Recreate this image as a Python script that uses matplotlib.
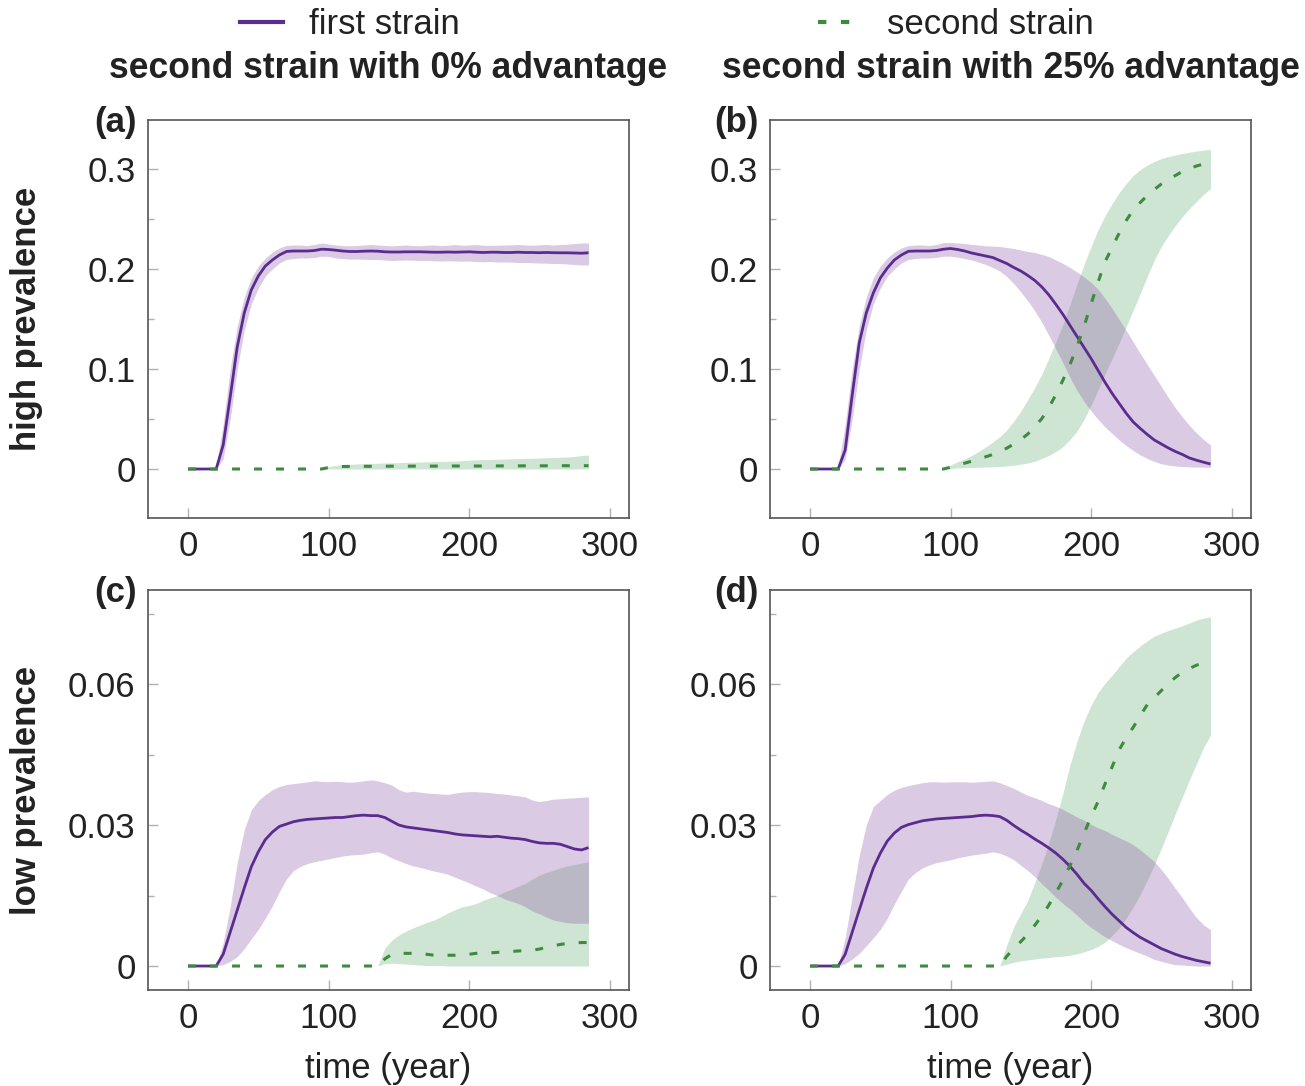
import numpy as np
import matplotlib
matplotlib.use("Agg")
import matplotlib.pyplot as plt
from matplotlib.lines import Line2D

plt.rcParams['font.family'] = ['Liberation Sans', 'DejaVu Sans']

# ---------------- data ----------------
years = np.arange(0, 290, 5)  # 0 ... 285 sampling grid

# (a) high prevalence, 0% advantage
a_first_mean = [0, 0, 0, 0, 0, 0.024, 0.072, 0.122, 0.156, 0.179, 0.193, 0.203, 0.209, 0.214, 0.2175, 0.218, 0.218, 0.218, 0.2185, 0.2198,
                0.2195, 0.2188, 0.218, 0.2175, 0.2175, 0.2178, 0.218, 0.2178, 0.2172, 0.217, 0.217, 0.2172, 0.2172, 0.2172, 0.217, 0.2168, 0.2168, 0.217, 0.2168, 0.217,
                0.2172, 0.2168, 0.2165, 0.2168, 0.2168, 0.2165, 0.2165, 0.2168, 0.2165, 0.2165, 0.2163, 0.2165, 0.2163, 0.2162, 0.2162, 0.216, 0.2158, 0.2162]
a_first_hi = [0, 0, 0, 0, 0.002, 0.045, 0.100, 0.143, 0.172, 0.191, 0.203, 0.211, 0.217, 0.221, 0.2235, 0.224, 0.224, 0.2235, 0.2245, 0.226,
              0.225, 0.224, 0.2235, 0.2232, 0.2235, 0.224, 0.2245, 0.224, 0.2235, 0.2232, 0.2235, 0.224, 0.2235, 0.2232, 0.2238, 0.224, 0.2235, 0.2238, 0.2245, 0.2238,
              0.224, 0.2245, 0.2238, 0.2235, 0.2238, 0.224, 0.2242, 0.2245, 0.224, 0.2238, 0.2242, 0.2245, 0.224, 0.2245, 0.2248, 0.2255, 0.226, 0.226]
a_first_lo = [0, 0, 0, 0, 0, 0.010, 0.050, 0.100, 0.139, 0.165, 0.181, 0.193, 0.200, 0.206, 0.2095, 0.2105, 0.211, 0.211, 0.2115, 0.2128,
              0.2125, 0.211, 0.2105, 0.2098, 0.210, 0.2098, 0.2095, 0.2095, 0.209, 0.2085, 0.2088, 0.209, 0.2088, 0.2085, 0.2085, 0.2082, 0.208, 0.2083, 0.208, 0.2078,
              0.208, 0.2075, 0.2072, 0.2075, 0.207, 0.207, 0.2068, 0.2065, 0.2065, 0.2062, 0.206, 0.2058, 0.2055, 0.2055, 0.205, 0.2045, 0.204, 0.204]
a_second_mean = [0, 0, 0, 0, 0, 0, 0, 0, 0, 0, 0, 0, 0, 0, 0, 0, 0, 0, 0, 0,
                 0.0015, 0.0022, 0.0025, 0.0026, 0.0026, 0.0027, 0.0027, 0.0027, 0.0028, 0.0028, 0.0028, 0.0028, 0.0029, 0.0029, 0.0029, 0.0029, 0.003, 0.003, 0.003, 0.003,
                 0.003, 0.003, 0.003, 0.0031, 0.0031, 0.0031, 0.0031, 0.0031, 0.0032, 0.0032, 0.0032, 0.0032, 0.0032, 0.0033, 0.0033, 0.0033, 0.0033, 0.0033]
a_second_hi = [0, 0, 0, 0, 0, 0, 0, 0, 0, 0, 0, 0, 0, 0, 0, 0, 0, 0, 0, 0,
               0.0025, 0.0035, 0.0042, 0.0046, 0.005, 0.0053, 0.0055, 0.0058, 0.006, 0.0062, 0.0064, 0.0066, 0.0068, 0.007, 0.0072, 0.0074, 0.0076, 0.0078, 0.008, 0.0083,
               0.0088, 0.0092, 0.0094, 0.0096, 0.0098, 0.010, 0.0102, 0.0104, 0.0106, 0.0108, 0.011, 0.0112, 0.0115, 0.0118, 0.012, 0.0125, 0.0135, 0.014]
a_second_lo = [0, 0, 0, 0, 0, 0, 0, 0, 0, 0, 0, 0, 0, 0, 0, 0, 0, 0, 0, 0,
               0, 0, 0, 0, 0, 0, 0, 0, 0, 0, 0, 0, 0, 0, 0, 0, 0, 0, 0, 0,
               0, 0, 0, 0, 0, 0, 0, 0, 0, 0, 0, 0, 0, 0, 0, 0, 0, 0]

# (b) high prevalence, 25% advantage
b_first_mean = [0, 0, 0, 0, 0, 0.019, 0.074, 0.126, 0.156, 0.176, 0.191, 0.201, 0.209, 0.214, 0.2177, 0.218, 0.218, 0.218, 0.2185, 0.2198,
                0.2205, 0.2195, 0.218, 0.216, 0.2145, 0.213, 0.2115, 0.2085, 0.2055, 0.2015, 0.198, 0.1935, 0.1885, 0.182, 0.174, 0.1645, 0.1545, 0.1435, 0.1325, 0.1215,
                0.1105, 0.0985, 0.0865, 0.0755, 0.0655, 0.0557, 0.047, 0.0405, 0.0345, 0.029, 0.025, 0.021, 0.0175, 0.0145, 0.011, 0.0088, 0.0068, 0.005]
b_first_hi = [0, 0, 0, 0, 0.002, 0.045, 0.100, 0.143, 0.172, 0.191, 0.203, 0.211, 0.217, 0.221, 0.2235, 0.224, 0.224, 0.2235, 0.2245, 0.2265,
              0.2265, 0.226, 0.2255, 0.2245, 0.224, 0.2232, 0.2228, 0.2225, 0.2215, 0.2205, 0.219, 0.2175, 0.2165, 0.2145, 0.2125, 0.209, 0.2055, 0.2015, 0.197, 0.192,
              0.1865, 0.1795, 0.1705, 0.1605, 0.1495, 0.1385, 0.127, 0.1155, 0.1045, 0.0935, 0.0825, 0.0715, 0.061, 0.052, 0.0435, 0.036, 0.0295, 0.024]
b_first_lo = [0, 0, 0, 0, 0, 0.010, 0.050, 0.100, 0.139, 0.165, 0.181, 0.193, 0.200, 0.206, 0.2095, 0.2105, 0.211, 0.211, 0.2115, 0.2128,
              0.2128, 0.2118, 0.2105, 0.209, 0.207, 0.2045, 0.2015, 0.198, 0.1925, 0.1855, 0.177, 0.168, 0.158, 0.1465, 0.1335, 0.12, 0.106, 0.0915, 0.0785, 0.0675,
              0.058, 0.0495, 0.042, 0.0355, 0.029, 0.0235, 0.0185, 0.014, 0.0105, 0.0075, 0.0052, 0.0038, 0.003, 0.0025, 0.0021, 0.0019, 0.0018, 0.0017]
b_second_mean = [0, 0, 0, 0, 0, 0, 0, 0, 0, 0, 0, 0, 0, 0, 0, 0, 0, 0, 0, 0,
                 0.0018, 0.0038, 0.0058, 0.0078, 0.0098, 0.0122, 0.0145, 0.0173, 0.0208, 0.025, 0.0295, 0.035, 0.0425, 0.0505, 0.0615, 0.0745, 0.089, 0.1045, 0.1225, 0.1425,
                 0.165, 0.187, 0.2075, 0.2215, 0.236, 0.2485, 0.259, 0.2665, 0.2735, 0.2795, 0.285, 0.2895, 0.2935, 0.2975, 0.3005, 0.303, 0.305, 0.306]
b_second_hi = [0, 0, 0, 0, 0, 0, 0, 0, 0, 0, 0, 0, 0, 0, 0, 0, 0, 0, 0, 0,
               0.004, 0.0072, 0.0102, 0.0135, 0.0175, 0.022, 0.027, 0.0323, 0.039, 0.048, 0.058, 0.0695, 0.0815, 0.095, 0.111, 0.1275, 0.145, 0.1645, 0.185, 0.2045,
               0.2225, 0.2395, 0.2535, 0.2655, 0.2765, 0.2855, 0.2935, 0.2995, 0.304, 0.3075, 0.3105, 0.3125, 0.314, 0.3155, 0.3168, 0.318, 0.3188, 0.3195]
b_second_lo = [0, 0, 0, 0, 0, 0, 0, 0, 0, 0, 0, 0, 0, 0, 0, 0, 0, 0, 0, 0,
               0.0005, 0.001, 0.0012, 0.0015, 0.0017, 0.002, 0.0022, 0.0025, 0.003, 0.0038, 0.0048, 0.006, 0.0078, 0.0105, 0.0135, 0.0175, 0.0225, 0.0295, 0.038, 0.0495,
               0.064, 0.079, 0.0955, 0.1105, 0.126, 0.1425, 0.159, 0.1755, 0.1925, 0.209, 0.2225, 0.2335, 0.2435, 0.2525, 0.2605, 0.2675, 0.2745, 0.2805]

# (c) low prevalence, 0% advantage
c_first_mean = [0, 0, 0, 0, 0, 0.0025, 0.0072, 0.0119, 0.0166, 0.0211, 0.0243, 0.0269, 0.0285, 0.0297, 0.0302, 0.0307, 0.031, 0.0312, 0.0313, 0.0314,
                0.0315, 0.0316, 0.0316, 0.0318, 0.032, 0.0321, 0.032, 0.032, 0.0316, 0.0308, 0.030, 0.0296, 0.0294, 0.0292, 0.029, 0.0288, 0.0286, 0.0284, 0.0281, 0.0279,
                0.0278, 0.0277, 0.0276, 0.0275, 0.0276, 0.0274, 0.0272, 0.0271, 0.0269, 0.0265, 0.0262, 0.0261, 0.0261, 0.0259, 0.0254, 0.0249, 0.0247, 0.0252]
c_first_hi = [0, 0, 0, 0, 0, 0.005, 0.0126, 0.022, 0.029, 0.0332, 0.0352, 0.0365, 0.0375, 0.0382, 0.0386, 0.0388, 0.039, 0.0392, 0.0394, 0.0393,
              0.0392, 0.0393, 0.0392, 0.0391, 0.0392, 0.0394, 0.0396, 0.0394, 0.039, 0.0385, 0.0375, 0.037, 0.0372, 0.037, 0.0368, 0.0367, 0.0366, 0.0365, 0.0368, 0.037,
              0.0371, 0.0371, 0.037, 0.0369, 0.0367, 0.0366, 0.0364, 0.0362, 0.036, 0.0353, 0.035, 0.0352, 0.0355, 0.0356, 0.0357, 0.0358, 0.0359, 0.036]
c_first_lo = [0, 0, 0, 0, 0, 0.0003, 0.001, 0.002, 0.0037, 0.0058, 0.0078, 0.0102, 0.0128, 0.0158, 0.0185, 0.0203, 0.0212, 0.0218, 0.0222, 0.0225,
              0.0228, 0.0231, 0.0234, 0.0236, 0.0237, 0.0238, 0.0241, 0.0243, 0.0238, 0.023, 0.0224, 0.0218, 0.0213, 0.021, 0.0206, 0.0202, 0.0199, 0.0195, 0.0189, 0.0183,
              0.0177, 0.017, 0.0164, 0.0156, 0.015, 0.0143, 0.0138, 0.0133, 0.0126, 0.0117, 0.0111, 0.0104, 0.0098, 0.0095, 0.0092, 0.0091, 0.0091, 0.0091]
c_second_mean = [0, 0, 0, 0, 0, 0, 0, 0, 0, 0, 0, 0, 0, 0, 0, 0, 0, 0, 0, 0,
                 0, 0, 0, 0, 0, 0, 0, 0, 0.0015, 0.0025, 0.0027, 0.0027, 0.0027, 0.0026, 0.0025, 0.0023, 0.0023, 0.0023, 0.0023, 0.0024,
                 0.0025, 0.0027, 0.0028, 0.0028, 0.0029, 0.003, 0.0031, 0.0032, 0.0033, 0.0034, 0.0036, 0.004, 0.0043, 0.0046, 0.0048, 0.0049, 0.005, 0.005]
c_second_hi = [0, 0, 0, 0, 0, 0, 0, 0, 0, 0, 0, 0, 0, 0, 0, 0, 0, 0, 0, 0,
               0, 0, 0, 0, 0, 0, 0, 0, 0.0038, 0.0055, 0.0066, 0.0074, 0.0081, 0.0087, 0.0093, 0.0098, 0.0105, 0.0113, 0.012, 0.0126,
               0.0129, 0.0133, 0.014, 0.0145, 0.015, 0.0158, 0.0163, 0.017, 0.0176, 0.0185, 0.0193, 0.0199, 0.0204, 0.0209, 0.0213, 0.0216, 0.0219, 0.0222]
c_second_lo = [0, 0, 0, 0, 0, 0, 0, 0, 0, 0, 0, 0, 0, 0, 0, 0, 0, 0, 0, 0,
               0, 0, 0, 0, 0, 0, 0, 0, 0.0005, 0.0006, 0.0005, 0.0004, 0.0003, 0.0002, 0.0001, 0.0001, 0.0001, 0, 0, 0,
               0, 0, 0, 0, 0, 0, 0, 0, 0, 0, 0, 0, 0, 0, 0, 0, 0, 0]

# (d) low prevalence, 25% advantage
d_first_mean = [0, 0, 0, 0, 0, 0.0025, 0.0072, 0.0119, 0.0165, 0.0208, 0.024, 0.0266, 0.0283, 0.0295, 0.0301, 0.0305, 0.0309, 0.0311, 0.0313, 0.0314,
                0.0315, 0.0316, 0.0317, 0.0318, 0.032, 0.0321, 0.032, 0.0318, 0.031, 0.0299, 0.0289, 0.028, 0.027, 0.0261, 0.0251, 0.024, 0.0227, 0.0212, 0.0195, 0.0176,
                0.0161, 0.0143, 0.0126, 0.011, 0.0096, 0.0082, 0.0071, 0.0061, 0.0053, 0.0045, 0.0037, 0.0031, 0.0025, 0.002, 0.0016, 0.0012, 0.0009, 0.0006]
d_first_hi = [0, 0, 0, 0, 0, 0.006, 0.0148, 0.0235, 0.030, 0.0339, 0.0352, 0.0365, 0.0374, 0.038, 0.0384, 0.0387, 0.039, 0.0392, 0.0392, 0.0391,
              0.0392, 0.0392, 0.0392, 0.0391, 0.0392, 0.0393, 0.0394, 0.039, 0.0384, 0.0378, 0.037, 0.0363, 0.0358, 0.0352, 0.0345, 0.034, 0.0333, 0.0325, 0.0317, 0.031,
              0.0301, 0.0294, 0.0288, 0.028, 0.0273, 0.0266, 0.0258, 0.0247, 0.0235, 0.0222, 0.0205, 0.0186, 0.0165, 0.0145, 0.0123, 0.0103, 0.0088, 0.0077]
d_first_lo = [0, 0, 0, 0, 0, 0.0005, 0.0015, 0.0027, 0.0043, 0.006, 0.0078, 0.0102, 0.0132, 0.0159, 0.0185, 0.0199, 0.0209, 0.0215, 0.022, 0.0223,
              0.0226, 0.023, 0.0233, 0.0236, 0.0238, 0.024, 0.0243, 0.024, 0.0234, 0.0226, 0.0214, 0.0203, 0.019, 0.0175, 0.0161, 0.0146, 0.0133, 0.0121, 0.0108, 0.0094,
              0.0082, 0.0072, 0.0062, 0.0054, 0.0046, 0.0039, 0.0033, 0.0027, 0.0021, 0.0014, 0.001, 0.0006, 0.0003, 0.0002, 0.0001, 0, 0, 0]
d_second_mean = [0, 0, 0, 0, 0, 0, 0, 0, 0, 0, 0, 0, 0, 0, 0, 0, 0, 0, 0, 0,
                 0, 0, 0, 0, 0, 0, 0, 0, 0.0021, 0.0037, 0.0052, 0.0068, 0.0087, 0.0107, 0.013, 0.0156, 0.0183, 0.0214, 0.0246, 0.0282,
                 0.0318, 0.035, 0.0388, 0.0424, 0.046, 0.0486, 0.0508, 0.0533, 0.0556, 0.0571, 0.0586, 0.0601, 0.0614, 0.0625, 0.0633, 0.064, 0.0645, 0.0648]
d_second_hi = [0, 0, 0, 0, 0, 0, 0, 0, 0, 0, 0, 0, 0, 0, 0, 0, 0, 0, 0, 0,
               0, 0, 0, 0, 0, 0, 0, 0, 0.0045, 0.0084, 0.0112, 0.014, 0.0178, 0.0218, 0.0263, 0.0313, 0.0368, 0.0428, 0.0478, 0.0521,
               0.0555, 0.0582, 0.0602, 0.0619, 0.0637, 0.0655, 0.0669, 0.0681, 0.0692, 0.0702, 0.0708, 0.0714, 0.0719, 0.0724, 0.073, 0.0736, 0.074, 0.0743]
d_second_lo = [0, 0, 0, 0, 0, 0, 0, 0, 0, 0, 0, 0, 0, 0, 0, 0, 0, 0, 0, 0,
               0, 0, 0, 0, 0, 0, 0, 0, 0.0004, 0.0008, 0.0011, 0.0013, 0.0015, 0.0017, 0.0018, 0.002, 0.0021, 0.0023, 0.0026, 0.003,
               0.0035, 0.0042, 0.0051, 0.0065, 0.0081, 0.0102, 0.0126, 0.0152, 0.0183, 0.0215, 0.025, 0.0287, 0.0324, 0.036, 0.0396, 0.043, 0.0465, 0.0491]

x_ticks = [0, 100, 200, 300]
high_ticks = [0, 0.1, 0.2, 0.3]
high_ticklabels = ["0", "0.1", "0.2", "0.3"]
high_minor = [0.05, 0.15, 0.25]
low_ticks = [0, 0.03, 0.06]
low_ticklabels = ["0", "0.03", "0.06"]
low_minor = [0.015, 0.045, 0.075]

column_titles = ["second strain with 0% advantage", "second strain with 25% advantage"]
row_labels = ["high prevalence", "low prevalence"]
panel_letters = ["(a)", "(b)", "(c)", "(d)"]
series_names = ["first strain", "second strain"]
x_label = "time (year)"

# ---------------- styling ----------------
PURPLE = "#5b2c8f"
GREEN = "#3d8b3d"
PURPLE_FILL = "#8a52a3"
GREEN_FILL = "#5fac70"
FS = 25

W, H = 1305, 1086
fig = plt.figure(figsize=(W / 100, H / 100), dpi=100)

def px_axes(left, top, right, bottom):
    return fig.add_axes([left / W, 1 - bottom / H, (right - left) / W, (bottom - top) / H])

axes = [px_axes(148, 120, 629, 518), px_axes(770, 120, 1251, 518),
        px_axes(148, 590, 629, 990), px_axes(770, 590, 1251, 990)]

panels = [
    (a_first_mean, a_first_lo, a_first_hi, a_second_mean, a_second_lo, a_second_hi),
    (b_first_mean, b_first_lo, b_first_hi, b_second_mean, b_second_lo, b_second_hi),
    (c_first_mean, c_first_lo, c_first_hi, c_second_mean, c_second_lo, c_second_hi),
    (d_first_mean, d_first_lo, d_first_hi, d_second_mean, d_second_lo, d_second_hi),
]

dash = (0, (2.6, 4.6))
for i, (ax, data) in enumerate(zip(axes, panels)):
    fm, fl, fh, sm, sl, sh = data
    ax.fill_between(years, sl, sh, color=GREEN_FILL, alpha=0.3, lw=0)
    ax.fill_between(years, fl, fh, color=PURPLE_FILL, alpha=0.3, lw=0)
    ax.plot(years, fm, color=PURPLE, lw=2.0, solid_capstyle='butt')
    ax.plot(years, sm, color=GREEN, lw=2.2, linestyle=dash)

    ax.set_xlim(-28.5, 313.8)
    ax.set_xticks(x_ticks)
    if i < 2:
        ax.set_ylim(-0.049, 0.349)
        ax.set_yticks(high_ticks)
        ax.set_yticklabels(high_ticklabels)
        ax.set_yticks(high_minor, minor=True)
    else:
        ax.set_ylim(-0.0051, 0.0800)
        ax.set_yticks(low_ticks)
        ax.set_yticklabels(low_ticklabels)
        ax.set_yticks(low_minor, minor=True)
    ax.tick_params(axis='both', which='major', direction='in', length=7, width=1.0,
                   color='#b0b0b0', labelsize=FS, labelcolor='#222222')
    ax.tick_params(axis='x', which='major', pad=9)
    ax.tick_params(axis='y', which='major', pad=9)
    ax.tick_params(axis='y', which='minor', direction='in', length=4.5, width=1.0, color='#b0b0b0')
    for s in ax.spines.values():
        s.set_color('#555555')
        s.set_linewidth(1.2)
    ax.text(-0.023, 1.035, panel_letters[i], transform=ax.transAxes, ha='right', va='top',
            fontsize=FS, fontweight='bold', color='#222222')
    if i >= 2:
        ax.set_xlabel(x_label, fontsize=FS, color='#222222', labelpad=12)

# column titles
for ax, title in zip(axes[:2], column_titles):
    cx = (ax.get_position().x0 + ax.get_position().x1) / 2
    fig.text(cx, 1 - 68 / H, title, ha='center', va='center', fontsize=25.6,
             fontweight='bold', color='#222222')

# row labels
for ax, lab in zip([axes[0], axes[2]], row_labels):
    cy = (ax.get_position().y0 + ax.get_position().y1) / 2
    fig.text(27 / W, cy, lab, rotation=90, ha='center', va='center', fontsize=FS,
             fontweight='bold', color='#222222')

# legend
handles = [Line2D([], [], color=PURPLE, lw=3.0),
           Line2D([], [], color=GREEN, lw=3.0, linestyle=(0, (2.0, 3.5)))]
fig.legend(handles, series_names, loc='center', bbox_to_anchor=(667 / W, 1 - 25 / H),
           ncol=2, frameon=False, fontsize=FS, handlelength=1.25, handletextpad=0.75,
           columnspacing=10.3, borderpad=0, labelcolor='#222222')

fig.savefig("out.png", dpi=100)
